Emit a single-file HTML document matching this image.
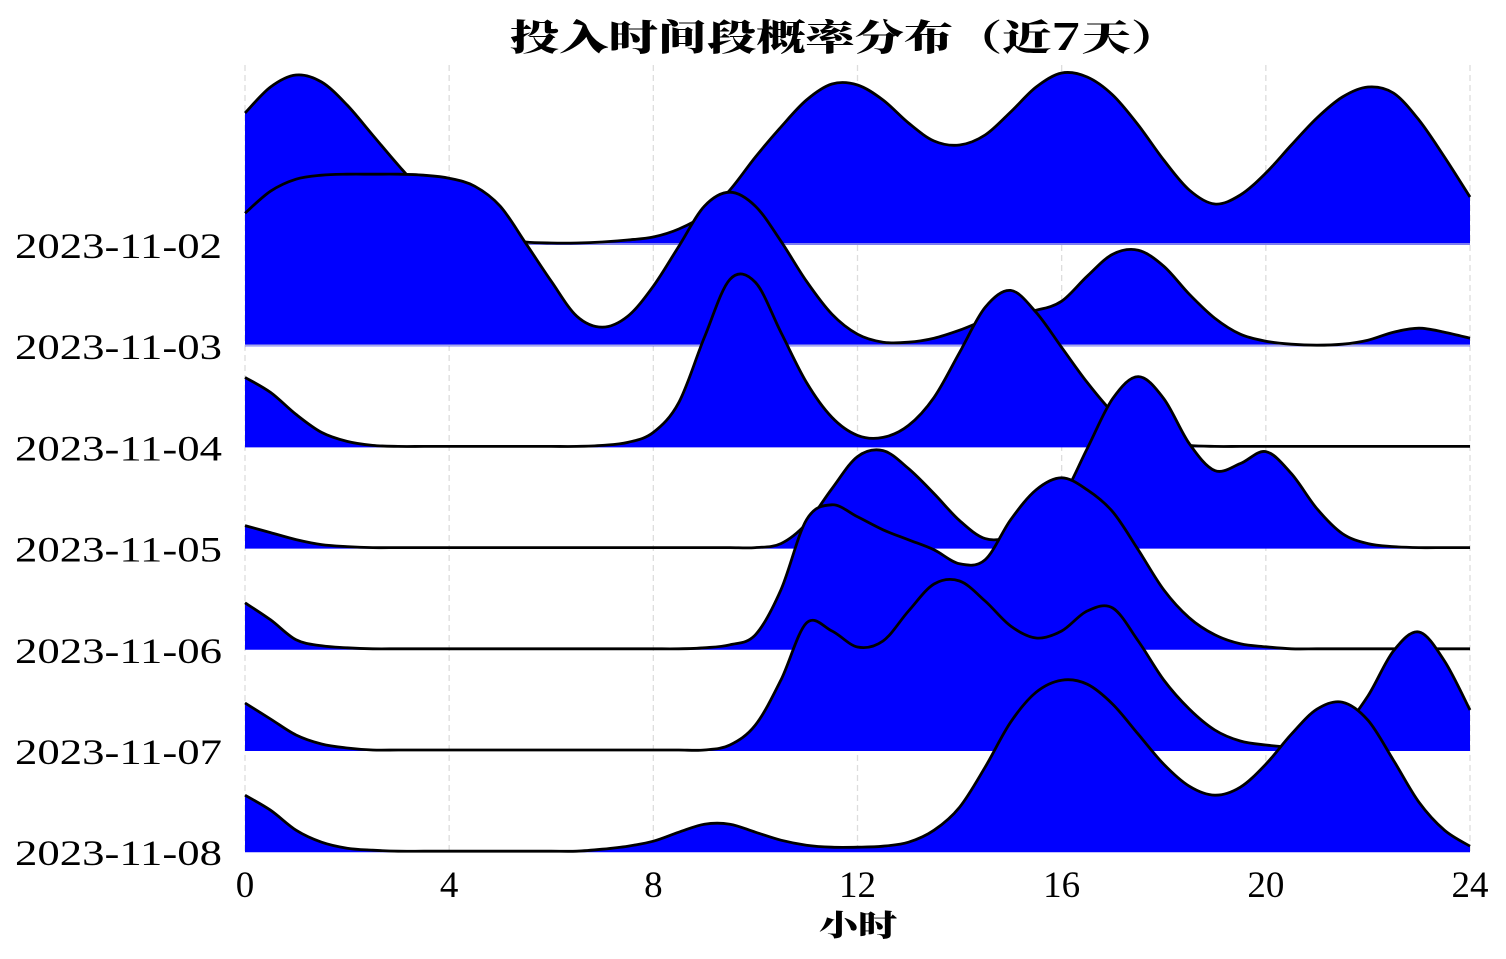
<!DOCTYPE html>
<html><head><meta charset="utf-8"><style>
html,body{margin:0;padding:0;background:#fff;width:1506px;height:959px;overflow:hidden}
svg{display:block}
</style></head><body>
<svg id="chart" width="1506" height="959">
<text x="845" y="50" text-anchor="middle" textLength="670" lengthAdjust="spacingAndGlyphs" font-family="'Noto Serif CJK SC','Liberation Serif',serif" font-weight="900" font-size="36">投入时间段概率分布（近7天）</text>
<g id="grid"></g>
<g id="ridges"></g>
<g id="ylabels"></g>
<g id="xticks"></g>
<text x="858" y="936" text-anchor="middle" textLength="78" lengthAdjust="spacingAndGlyphs" font-family="'Noto Serif CJK SC','Liberation Serif',serif" font-weight="900" font-size="30">小时</text>
</svg>
<script>
const categories = ["2023-11-02","2023-11-03","2023-11-04","2023-11-05","2023-11-06","2023-11-07","2023-11-08"];
const hourStep = 0.5;
const xTicks = [0,4,8,12,16,20,24];
const d1 = [132,158,170,163,140,110,80,52,30,15,7,3,2,2,3,5,8,16,30,55,88,118,145,161,160,145,122,104,100,110,133,158,172,168,150,120,85,55,41,50,72,100,127,148,158,152,125,88,48];
const d2 = [133,155,167,171,172,172,172,171,168,160,140,103,65,30,19,30,60,100,140,154,140,105,65,32,12,4,4,8,16,26,33,36,45,70,92,96,80,52,28,12,5,2,1,2,6,14,18,14,8];
const d3 = [70,55,33,15,6,2,1,1,1,1,1,1,1,1,2,5,15,45,110,168,165,115,65,30,12,10,22,50,95,140,157,135,100,65,35,15,6,2,1,1,1,1,1,1,1,1,1,1,1];
const d4 = [23,16,9,4,2,1,1,1,1,1,1,1,1,1,1,1,1,1,1,1,1,5,25,60,92,98,80,55,28,10,12,28,50,100,150,172,150,105,78,85,97,75,40,15,5,2,1,1,1];
const d5 = [47,30,10,4,2,1,1,1,1,1,1,1,1,1,1,1,1,1,2,5,15,60,130,145,133,120,110,100,86,90,130,160,172,160,138,100,60,32,15,6,3,1,1,1,1,1,1,1,1];
const d6 = [48,32,16,7,3,1,1,1,1,1,1,1,1,1,1,1,1,1,1,6,26,71,128,120,104,110,140,167,170,150,125,113,120,140,143,110,71,42,21,10,6,4,6,22,55,100,119,90,41];
const d7 = [57,42,22,10,4,2,1,1,1,1,1,1,1,1,3,6,11,20,28,28,20,12,7,5,5,6,10,22,45,85,130,160,172,168,148,118,88,66,57,65,88,118,143,150,132,92,50,22,6];
const series = [d1,d2,d3,d4,d5,d6,d7];

const X0=245, X1=1470, topBase=245, rowGap=101.2;
const xs = h => X0 + (h/24)*(X1-X0);
const base = i => topBase + i*rowGap;
const ys = (i,v) => base(i) - v;
const NS="http://www.w3.org/2000/svg";
function mk(tag, attrs, parent){const e=document.createElementNS(NS,tag);for(const k in attrs)e.setAttribute(k,attrs[k]);parent.appendChild(e);return e;}

const grid=document.getElementById('grid');
xTicks.forEach(t=>{
  const l=mk('line',{x1:xs(t),x2:xs(t),y1:65,y2:852,stroke:'#dddddd','stroke-width':1.3,'stroke-dasharray':'6,4'},grid);
  
  
});

function curvePath(pts){
  let d=`M${pts[0][0]},${pts[0][1]}`;
  for(let i=0;i<pts.length-1;i++){
    const p0=pts[Math.max(0,i-1)],p1=pts[i],p2=pts[i+1],p3=pts[Math.min(pts.length-1,i+2)];
    const c1x=p1[0]+(p2[0]-p0[0])/6,c1y=p1[1]+(p2[1]-p0[1])/6;
    const c2x=p2[0]-(p3[0]-p1[0])/6,c2y=p2[1]-(p3[1]-p1[1])/6;
    d+=` C${c1x},${c1y} ${c2x},${c2y} ${p2[0]},${p2[1]}`;
  }
  return d;
}
const ridges=document.getElementById('ridges');
series.forEach((vals,i)=>{
  const pts=vals.map((v,k)=>[xs(k*hourStep),ys(i,v)]);
  const c=curvePath(pts);
  const g=mk('g',{},ridges);
  
  
  const f=mk('path',{d:`M${X0},${base(i)} L${pts[0][0]},${pts[0][1]} `+c.slice(c.indexOf('C'))+` L${X1},${base(i)} Z`,fill:'#0000ff',stroke:'none'},g);
  
  
  if(i<2){
    const b=mk('line',{x1:X0,x2:X1,y1:base(i)-1,y2:base(i)-1,stroke:'#a8a8e8','stroke-width':1.5},g);
    
    
  }
  const s=mk('path',{d:c,fill:'none',stroke:'#000','stroke-width':2.8,'stroke-linejoin':'round'},g);
  
  
});

const yl=document.getElementById('ylabels');
categories.forEach((c,i)=>{
  const t=mk('text',{x:222,y:base(i)+13,'text-anchor':'end',textLength:207,lengthAdjust:'spacingAndGlyphs','font-family':"'Liberation Serif',serif",'font-size':36},yl);
  t.textContent=c;
  
  
});
const xt=document.getElementById('xticks');
xTicks.forEach(tk=>{
  const t=mk('text',{x:xs(tk),y:897,'text-anchor':'middle','font-family':"'Liberation Serif',serif",'font-size':37},xt);
  t.textContent=tk;
  
  
});
</script>
</body></html>
